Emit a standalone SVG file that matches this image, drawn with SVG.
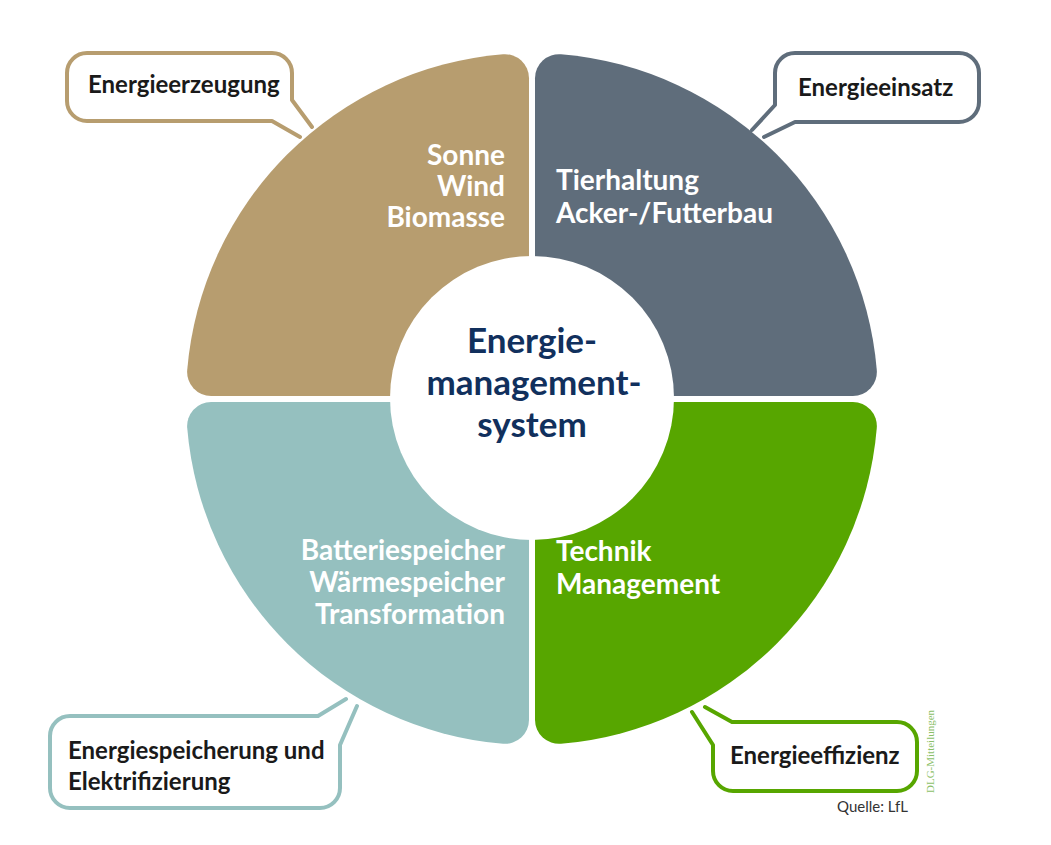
<svg xmlns="http://www.w3.org/2000/svg" width="1051" height="845" viewBox="0 0 1051 845">
<style>
.q{stroke:none}
.qt{font-family:Lato,"Open Sans",sans-serif;font-weight:700;font-size:28px;fill:#ffffff}
.ct{font-family:Lato,"Open Sans",sans-serif;font-weight:700;font-size:35px;fill:#11305d;text-anchor:middle}
.cb{fill:#ffffff;stroke-width:4;stroke-linejoin:round;stroke-linecap:round}
.cl{font-family:Lato,"Open Sans",sans-serif;font-weight:700;font-size:24px;fill:#1a1a1a}
</style>
<rect width="1051" height="845" fill="#ffffff"/>
<g id="quadrant-erzeugung">
<path class="q" fill="#b79d6f" d="M529,396 L529,78.13 A24 24 0 0 0 502.99,54.22 A346 346 0 0 0 187.22,369.99 A24 24 0 0 0 211.13,396 Z"/>
<text class="qt" text-anchor="end" x="505" y="165">Sonne</text>
<text class="qt" text-anchor="end" x="505" y="196">Wind</text>
<text class="qt" text-anchor="end" x="505" y="227">Biomasse</text>
</g>
<g id="quadrant-einsatz">
<path class="q" fill="#5f6d7b" d="M535,396 L535,78.13 A24 24 0 0 1 561.01,54.22 A346 346 0 0 1 876.78,369.99 A24 24 0 0 1 852.87,396 Z"/>
<text class="qt" x="556" y="190">Tierhaltung</text>
<text class="qt" x="556" y="223">Acker-/Futterbau</text>
</g>
<g id="quadrant-speicherung">
<path class="q" fill="#95c0bf" d="M529,402 L529,719.87 A24 24 0 0 1 502.99,743.78 A346 346 0 0 1 187.22,428.01 A24 24 0 0 1 211.13,402 Z"/>
<text class="qt" text-anchor="end" x="505" y="560">Batteriespeicher</text>
<text class="qt" text-anchor="end" x="505" y="592">Wärmespeicher</text>
<text class="qt" text-anchor="end" x="505" y="624">Transformation</text>
</g>
<g id="quadrant-effizienz">
<path class="q" fill="#57a600" d="M535,402 L535,719.87 A24 24 0 0 0 561.01,743.78 A346 346 0 0 0 876.78,428.01 A24 24 0 0 0 852.87,402 Z"/>
<text class="qt" x="556" y="561">Technik</text>
<text class="qt" x="556" y="594">Management</text>
</g>
<g id="center">
<circle cx="532" cy="398" r="142" fill="#ffffff"/>
<text class="ct" x="532" y="353">Energie-</text>
<text class="ct" x="534" y="395">management-</text>
<text class="ct" x="532" y="437">system</text>
</g>
<g id="connectors">
<g id="callout-energieerzeugung">
<path class="cb" stroke="#b79d6f" d="M300,137 L272,121 L87,121 A20 20 0 0 1 67,101 L67,73 A20 20 0 0 1 87,53 L272,53 A20 20 0 0 1 292,73 L292,100 L312,127"/>
<text class="cl" x="88" y="93">Energieerzeugung</text>
</g>
<g id="callout-energieeinsatz">
<path class="cb" stroke="#5f6d7b" d="M764,137 L795,122 L959,122 A20 20 0 0 0 979,102 L979,73 A20 20 0 0 0 959,53 L795,53 A20 20 0 0 0 775,73 L775,105 L752,130"/>
<text class="cl" x="798" y="96">Energieeinsatz</text>
</g>
<g id="callout-energiespeicherung">
<path class="cb" stroke="#95c0bf" d="M346,699 L318,716 L70,716 A20 20 0 0 0 50,736 L50,788 A20 20 0 0 0 70,808 L320,808 A20 20 0 0 0 340,788 L340,745 L357,706"/>
<text class="cl" x="68" y="759">Energiespeicherung und</text>
<text class="cl" x="68" y="790">Elektrifizierung</text>
</g>
<g id="callout-energieeffizienz">
<path class="cb" stroke="#57a600" d="M705,707 L732,722 L897,722 A20 20 0 0 1 917,742 L917,771 A20 20 0 0 1 897,791 L733,791 A20 20 0 0 1 713,771 L713,745 L692,712"/>
<text class="cl" x="730" y="764">Energieeffizienz</text>
</g>
</g>
<text x="837" y="812" font-family="Lato, 'Open Sans', sans-serif" font-size="15" fill="#333333">Quelle: LfL</text>
<text transform="translate(934,793) rotate(-90)" font-family="'Liberation Serif', serif" font-size="11" fill="#8cbf6a">DLG-Mitteilungen</text>
</svg>
